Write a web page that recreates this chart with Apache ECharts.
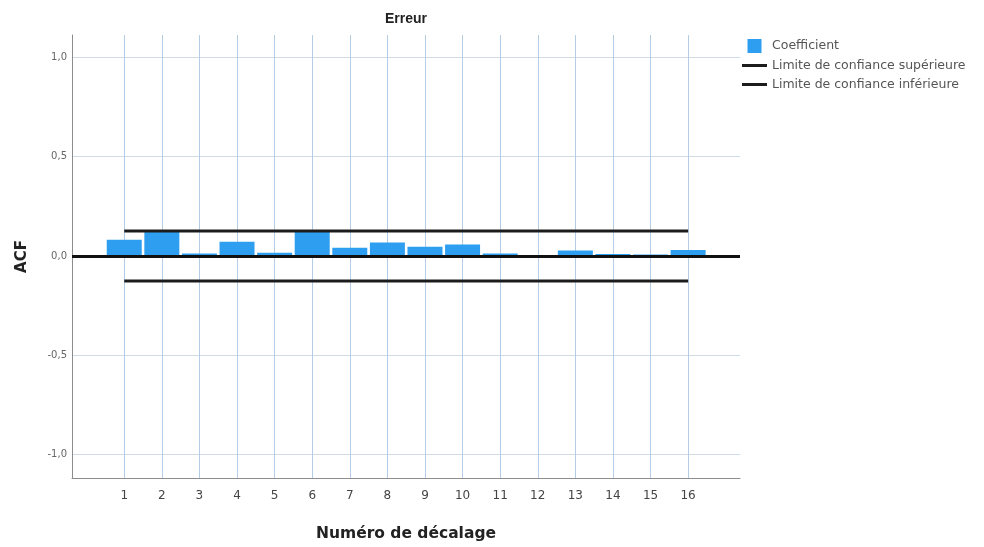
<!DOCTYPE html>
<html>
<head>
<meta charset="utf-8">
<script src="https://cdn.jsdelivr.net/npm/echarts@6/dist/echarts.min.js"></script>
<style>
  html, body { margin: 0; padding: 0; background: #ffffff; }
  #chart { width: 984px; height: 547px; }
</style>
</head>
<body>
<div id="chart"></div>
<script>
// Autocorrelation of the residuals by lag
const lags = [1, 2, 3, 4, 5, 6, 7, 8, 9, 10, 11, 12, 13, 14, 15, 16];
const coefficients = [0.082, 0.128, 0.012, 0.072, 0.017, 0.130, 0.042, 0.068,
                      0.047, 0.058, 0.012, 0.004, 0.028, 0.010, 0.008, 0.030];
const upperLimit = [0.126, 0.126, 0.126, 0.126, 0.126, 0.126, 0.126, 0.126,
                    0.126, 0.126, 0.126, 0.126, 0.126, 0.126, 0.126, 0.126];
const lowerLimit = [-0.126, -0.126, -0.126, -0.126, -0.126, -0.126, -0.126, -0.126,
                    -0.126, -0.126, -0.126, -0.126, -0.126, -0.126, -0.126, -0.126];
const yTicks = [-1, -0.5, 0, 0.5, 1];

const FONT = 'DejaVu Sans';
const pairs = (vals) => lags.map((l, i) => [l, vals[i]]);
const LINE_ICON = 'path://M0,0H25V3H0Z';

const chart = echarts.init(document.getElementById('chart'), null, { renderer: 'canvas' });

chart.setOption({
  animation: false,
  backgroundColor: '#ffffff',
  title: {
    text: 'Erreur',
    left: 385,
    top: 12,
    padding: 0,
    textStyle: { fontFamily: 'Liberation Sans', fontSize: 14, fontWeight: 'bold', color: '#222' }
  },
  legend: {
    orient: 'vertical',
    left: 742,
    top: 39,
    padding: 0,
    itemWidth: 25,
    itemHeight: 14,
    itemGap: 6,
    textStyle: { fontFamily: FONT, fontSize: 12.5, color: '#555' },
    data: [
      { name: 'Coefficient', icon: 'path://M0,0H10V10H0Z' },
      { name: 'Limite de confiance supérieure', icon: LINE_ICON },
      { name: 'Limite de confiance inférieure', icon: LINE_ICON }
    ]
  },
  grid: { left: 72, right: 244, top: 35, bottom: 65 },
  xAxis: {
    type: 'value',
    min: -0.39,
    max: 17.38,
    name: 'Numéro de décalage',
    nameLocation: 'middle',
    nameGap: 48,
    nameTextStyle: { fontFamily: FONT, fontSize: 15.5, fontWeight: 'bold', color: '#222' },
    axisLine: { show: true, onZero: false, lineStyle: { color: '#8c8c8c', width: 1 } },
    axisTick: { show: false, customValues: lags },
    axisLabel: { customValues: lags, fontFamily: FONT, fontSize: 12, color: '#444', margin: 12 },
    splitLine: { show: true, lineStyle: { color: '#b3cde6', width: 1 } }
  },
  yAxis: {
    type: 'value',
    min: -1.118,
    max: 1.113,
    name: 'ACF',
    nameLocation: 'middle',
    nameRotate: 90,
    nameGap: 42,
    nameTextStyle: { fontFamily: FONT, fontSize: 15, fontWeight: 'bold', color: '#222' },
    axisLine: { show: true, onZero: false, lineStyle: { color: '#8c8c8c', width: 1 } },
    axisTick: { show: false, customValues: yTicks },
    axisLabel: {
      customValues: yTicks,
      fontFamily: FONT, fontSize: 10, color: '#666', margin: 5,
      formatter: (v) => v.toFixed(1).replace('.', ',')
    },
    splitLine: { show: true, lineStyle: { color: '#cfdbe7', width: 1 } }
  },
  series: [
    {
      name: 'Coefficient',
      type: 'bar',
      data: pairs(coefficients),
      barWidth: 35,
      itemStyle: { color: '#2e9ff0' },
      markLine: {
        silent: true,
        symbol: ['none', 'none'],
        label: { show: false },
        lineStyle: { color: '#111', width: 3, type: 'solid' },
        data: [{ yAxis: 0 }]
      }
    },
    {
      name: 'Limite de confiance supérieure',
      type: 'line',
      data: pairs(upperLimit),
      symbol: 'none',
      lineStyle: { color: '#1c1c1c', width: 3 },
      itemStyle: { color: '#1c1c1c' }
    },
    {
      name: 'Limite de confiance inférieure',
      type: 'line',
      data: pairs(lowerLimit),
      symbol: 'none',
      lineStyle: { color: '#1c1c1c', width: 3 },
      itemStyle: { color: '#1c1c1c' }
    }
  ]
});
</script>
</body>
</html>
